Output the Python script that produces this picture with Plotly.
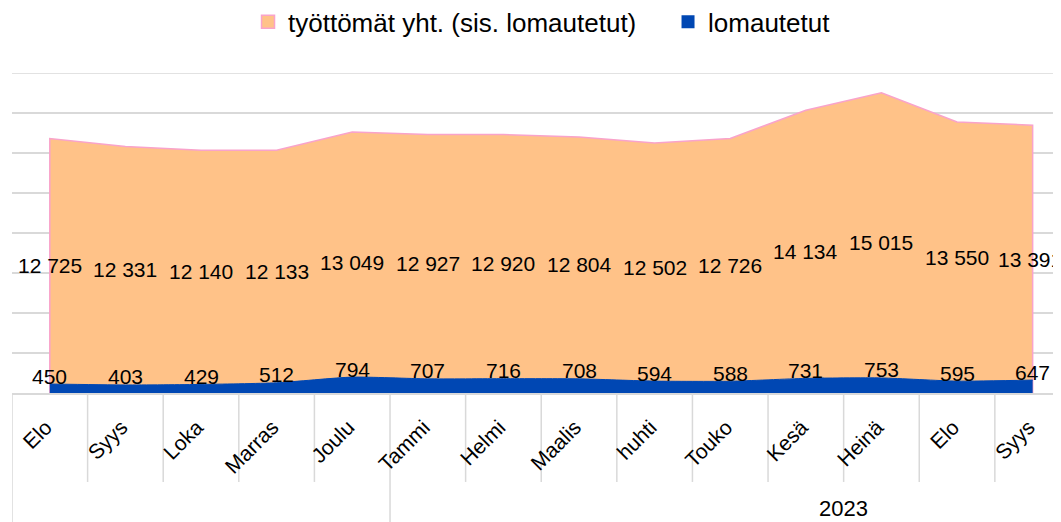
import plotly.graph_objects as go

months = ["Elo", "Syys", "Loka", "Marras", "Joulu", "Tammi", "Helmi", "Maalis",
          "huhti", "Touko", "Kesä", "Heinä", "Elo", "Syys"]
year_label = "2023"
total_unemployed = [12725, 12331, 12140, 12133, 13049, 12927, 12920, 12804,
                    12502, 12726, 14134, 15015, 13550, 13391]
laid_off = [450, 403, 429, 512, 794, 707, 716, 708, 594, 588, 731, 753, 595, 647]
name_total = "työttömät yht. (sis. lomautetut)"
name_laid = "lomautetut"

FONT = "Liberation Sans, Arial, sans-serif"
ORANGE = "#FFC288"
PINK = "#F9A3CB"
BLUE = "#0047B3"
GRID = "#D9D9D9"
Y_MAX = 16000


def fmt(v):
    return f"{v:,}".replace(",", " ")


xs = list(range(len(months)))
last = len(months) - 1

fig = go.Figure()
# orange area drawn as closed polygon so that the pink border also runs down the sides
fig.add_trace(go.Scatter(
    x=[xs[0]] + xs + [xs[-1]],
    y=[0] + total_unemployed + [0],
    mode="lines", fill="toself", fillcolor=ORANGE,
    line=dict(color=PINK, width=1.5),
    name=name_total, hoverinfo="skip", showlegend=False,
))
fig.add_trace(go.Scatter(
    x=xs, y=laid_off, mode="lines", fill="tozeroy", fillcolor=BLUE,
    line=dict(color=BLUE, width=1, shape="spline", smoothing=0.6),
    name=name_laid, hoverinfo="skip", showlegend=False,
))
# legend entries with square swatches
fig.add_trace(go.Scatter(x=[None], y=[None], mode="markers", name=name_total,
                         marker=dict(symbol="square", size=13, color=ORANGE,
                                     line=dict(color=PINK, width=1.5))))
fig.add_trace(go.Scatter(x=[None], y=[None], mode="markers", name=name_laid,
                         marker=dict(symbol="square", size=13, color=BLUE,
                                     line=dict(color=BLUE, width=0))))

annotations = []
for i, v in enumerate(total_unemployed):
    annotations.append(dict(x=i, y=v / 2, xref="x", yref="y", text=fmt(v),
                            showarrow=False, yanchor="middle",
                            xshift=-3 if i == last else 0,
                            font=dict(size=21, color="#000000", family=FONT)))
for i, v in enumerate(laid_off):
    annotations.append(dict(x=i, y=v + 400, xref="x", yref="y", text=fmt(v),
                            showarrow=False, yanchor="middle",
                            font=dict(size=21, color="#000000", family=FONT)))
# year group label (group spans 12 months starting at Tammi)
annotations.append(dict(x=5 + 5.5, y=-0.362, xref="x", yref="paper", text=year_label,
                        showarrow=False, yanchor="middle",
                        font=dict(size=22, color="#000000", family=FONT)))

shapes = [dict(type="line", xref="paper", yref="y", x0=0, x1=1, y0=Y_MAX, y1=Y_MAX,
               line=dict(color=GRID, width=1.5), layer="below")]
for k in range(len(months)):
    b = k - 0.5
    long = (k == 0) or (months[k] == "Tammi")
    shapes.append(dict(type="line", xref="x", yref="paper", x0=b, x1=b,
                       y0=0, y1=-0.45 if long else -0.278,
                       line=dict(color=GRID, width=1.5), layer="below"))

fig.update_layout(
    width=1053, height=514,
    margin=dict(l=4, r=0, t=65, b=129, autoexpand=False),
    paper_bgcolor="white", plot_bgcolor="white",
    font=dict(family=FONT, size=21, color="#000000"),
    showlegend=True,
    legend=dict(orientation="h", x=0.225, xanchor="left",
                yref="container", y=0.973, yanchor="middle",
                font=dict(size=26, family=FONT), itemwidth=30,
                entrywidth=375, entrywidthmode="pixels",
                bgcolor="rgba(0,0,0,0)"),
    annotations=annotations, shapes=shapes,
    xaxis=dict(range=[-0.5, 13.375], tickmode="array", tickvals=xs, ticktext=months,
               tickangle=-45, showgrid=False, zeroline=False, automargin=False,
               showline=True, linecolor=GRID, linewidth=1.5,
               ticks="outside", ticklen=12, tickcolor="rgba(0,0,0,0)",
               ticklabelshift=-4,
               tickfont=dict(size=21, family=FONT, color="#000000")),
    yaxis=dict(range=[0, Y_MAX], dtick=2000, showticklabels=False, automargin=False,
               showgrid=True, gridcolor=GRID, gridwidth=1.5, zeroline=False),
)

fig.write_html("out.html")
